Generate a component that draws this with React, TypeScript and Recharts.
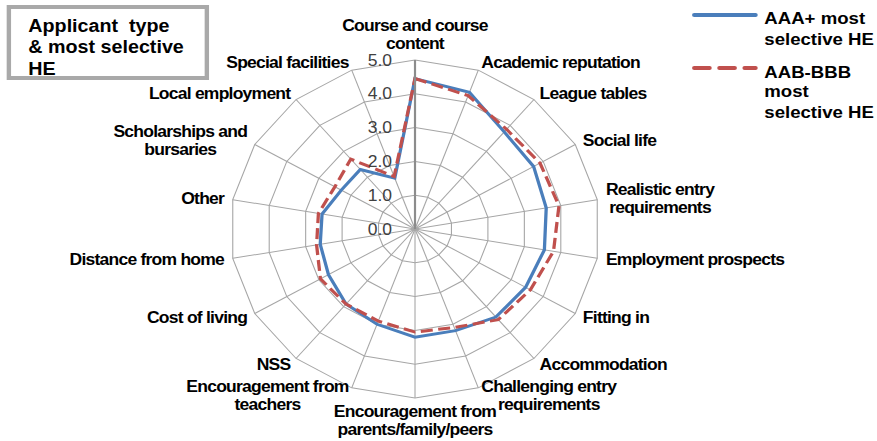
import React from 'react';
import { RadarChart, Radar, PolarGrid, PolarAngleAxis, PolarRadiusAxis, Legend } from 'recharts';

// categories clockwise from the top, "\n" marks where the label wraps
const categories = [
  'Course and course\ncontent',
  'Academic reputation',
  'League tables',
  'Social life',
  'Realistic entry\nrequirements',
  'Employment prospects',
  'Fitting in',
  'Accommodation',
  'Challenging entry\nrequirements',
  'Encouragement from\nparents/family/peers',
  'Encouragement from\nteachers',
  'NSS',
  'Cost of living',
  'Distance from home',
  'Other',
  'Scholarships and\nbursaries',
  'Local employment',
  'Special facilities',
];

const aaaPlus = [4.45, 4.3, 3.75, 3.7, 3.6, 3.55, 3.45, 3.4, 3.2, 3.2, 3.0, 2.9, 2.7, 2.6, 2.55, 2.3, 2.3, 1.6];
const aabBbb = [4.45, 4.2, 3.85, 3.9, 3.95, 3.8, 3.6, 3.5, 3.1, 3.05, 2.9, 2.9, 2.95, 2.7, 2.65, 2.5, 2.7, 1.65];

const seriesNames = ['AAA+ most selective HE', 'AAB-BBB most selective HE'];
const legendLines = [['AAA+ most', 'selective HE'], ['AAB-BBB', 'most', 'selective HE']];
const titleLines = ['Applicant  type', '& most selective', 'HE'];

const data = categories.map((category, i) => ({
  category,
  aaa: aaaPlus[i],
  aab: aabBbb[i],
}));

const BLUE = '#4a7ebb';
const RED = '#c0504d';
const FONT = '"Liberation Sans", Arial, sans-serif';
// the reference is stretched horizontally, so the whole chart is scaled on x
const SX = 1.095;
const CX = 379;
const CY = 229;
const LINE_H = 18;
const LABEL_SIZE = 16;
const LABEL_SPACING = -0.7;

let ctx: CanvasRenderingContext2D | null = null;
function textWidth(s: string) {
  if (!ctx) ctx = document.createElement('canvas').getContext('2d');
  if (!ctx) return s.length * 8;
  ctx.font = `bold ${LABEL_SIZE}px "Liberation Sans"`;
  return ctx.measureText(s).width + LABEL_SPACING * s.length;
}

const AngleTick = (props: any) => {
  const { x, y, textAnchor, payload } = props;
  const lines = String(payload.value).split('\n');
  const boxW = Math.max(...lines.map(textWidth));
  let mid = x;
  if (textAnchor === 'start') mid = x + boxW / 2;
  else if (textAnchor === 'end') mid = x - boxW / 2;
  const h = lines.length * LINE_H;
  let top = y - h / 2;
  if (textAnchor === 'middle') top = y < CY ? y - h : y - 4;
  return (
    <text
      textAnchor="middle"
      fontFamily={FONT}
      fontSize={LABEL_SIZE}
      fontWeight="bold"
      letterSpacing={LABEL_SPACING}
      fill="#000"
    >
      {lines.map((l, i) => (
        <tspan key={i} x={mid} y={top + LINE_H * (i + 0.5) + 5.7}>
          {l}
        </tspan>
      ))}
    </text>
  );
};

const RadiusTick = (props: any) => {
  const { x, y, payload } = props;
  return (
    <text x={x - 21} y={y + 5.7} textAnchor="end" fontFamily={FONT} fontSize={16} fill="#404040">
      {Number(payload.value).toFixed(1)}
    </text>
  );
};

const renderLegend = () => (
  <svg width={172} height={125} style={{ display: 'block' }}>
    <line x1={6} y1={15} x2={62} y2={15} stroke={BLUE} strokeWidth={4} strokeLinecap="round" />
    <line x1={6} y1={68} x2={62} y2={68} stroke={RED} strokeWidth={4} strokeLinecap="round" strokeDasharray="14 9" />
    <text fontFamily={FONT} fontSize={17} fontWeight="bold" fill="#000">
      <tspan x={70} y={24}>{legendLines[0][0]}</tspan>
      <tspan x={70} y={45}>{legendLines[0][1]}</tspan>
      <tspan x={70} y={78}>{legendLines[1][0]}</tspan>
      <tspan x={70} y={97}>{legendLines[1][1]}</tspan>
      <tspan x={70} y={118}>{legendLines[1][2]}</tspan>
    </text>
  </svg>
);

export default function App() {
  return (
    <div style={{ position: 'absolute', left: 0, top: 0, width: 877, height: 441, background: '#fff', overflow: 'hidden' }}>
      <div style={{ position: 'absolute', left: 0, top: 0, width: 800, height: 441, transform: `scaleX(${SX})`, transformOrigin: '0 0' }}>
        <svg width={200} height={90} style={{ position: 'absolute', left: 0, top: 0 }}>
          <rect x={8.1} y={7} width={180.8} height={71} fill="#fff" stroke="#a9a9a9" strokeWidth={4} />
          <text fontFamily={FONT} fontSize={18} fontWeight="bold" fill="#000" style={{ whiteSpace: 'pre' }}>
            <tspan x={25.9} y={32}>{titleLines[0]}</tspan>
            <tspan x={25.9} y={53.5}>{titleLines[1]}</tspan>
            <tspan x={25.9} y={75}>{titleLines[2]}</tspan>
          </text>
        </svg>
        <RadarChart
          width={800}
          height={441}
          data={data}
          cx={CX}
          cy={CY}
          outerRadius={169}
          startAngle={90}
          endAngle={-270}
          margin={{ top: 0, right: 0, bottom: 0, left: 0 }}
        >
          <PolarGrid gridType="polygon" stroke="#a6a6a6" strokeWidth={1} />
          <PolarAngleAxis dataKey="category" tick={AngleTick} tickLine={false} axisLine={false} tickSize={8} />
          <PolarRadiusAxis
            angle={90}
            type="number"
            domain={[0, 5]}
            tickCount={6}
            tick={RadiusTick}
            axisLine={{ stroke: '#8c8c8c', strokeWidth: 2 }}
          />
          <Radar
            name={seriesNames[0]}
            dataKey="aaa"
            stroke={BLUE}
            strokeWidth={3}
            fill="none"
            fillOpacity={0}
            dot={false}
            isAnimationActive={false}
          />
          <Radar
            name={seriesNames[1]}
            dataKey="aab"
            stroke={RED}
            strokeWidth={3}
            strokeDasharray="11 5"
            fill="none"
            fillOpacity={0}
            dot={false}
            isAnimationActive={false}
          />
          <Legend
            layout="vertical"
            align="right"
            verticalAlign="top"
            wrapperStyle={{ left: 628, top: 0, width: 172, height: 125 }}
            content={renderLegend}
          />
        </RadarChart>
      </div>
    </div>
  );
}
